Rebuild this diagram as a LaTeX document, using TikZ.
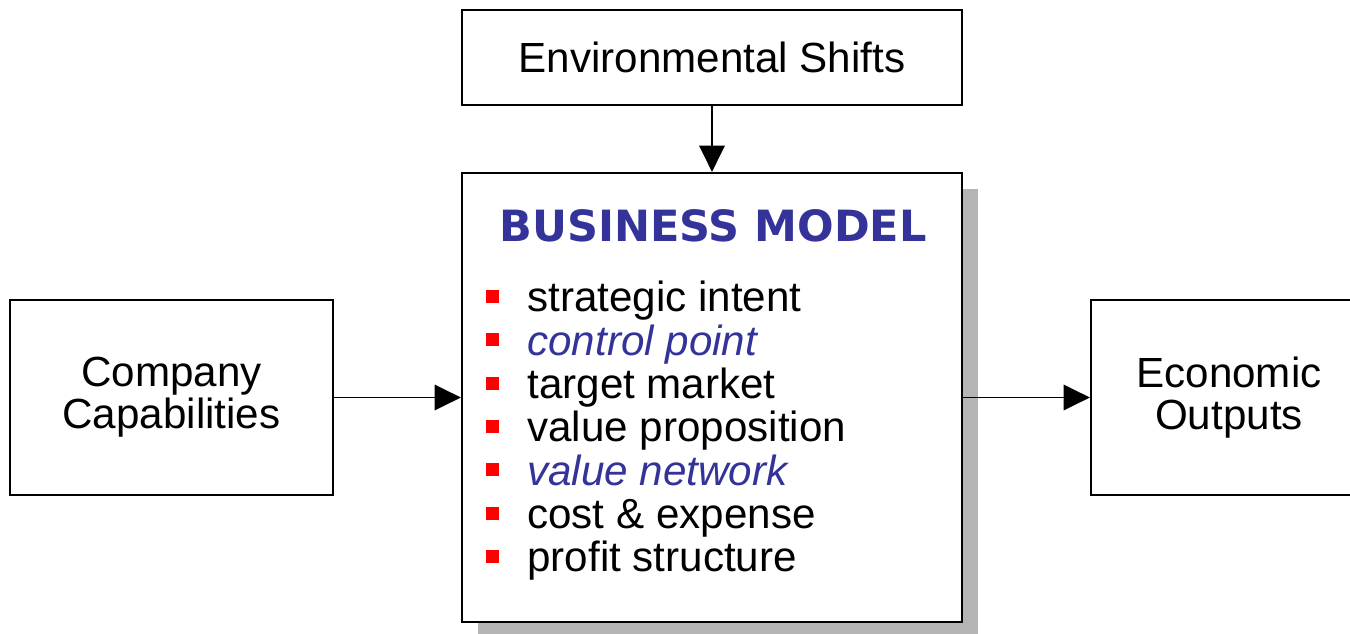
\documentclass[tikz,border=0pt]{standalone}
\usepackage{fontspec}
\setmainfont{Liberation Sans}
\newfontfamily\titlefont{DejaVu Sans}
\usetikzlibrary{positioning, arrows.meta}
\definecolor{bmblue}{HTML}{333399}
\definecolor{bmred}{HTML}{FF0000}
\definecolor{bmshade}{HTML}{B4B4B4}

\begin{document}
\begin{tikzpicture}[
    x=0.02cm, y=0.02cm,
    >={Triangle[length=15pt, width=14.5pt]},
    font=\fontsize{24}{24}\selectfont,
    box/.style={draw=black, line width=1.3pt, fill=white, inner sep=0pt, align=center},
    link/.style={draw=black, line width=1.1pt, ->},
    itemtxt/.style={anchor=base west, inner sep=0pt, text=black},
    itemhl/.style={anchor=base west, inner sep=0pt, text=bmblue, font=\fontsize{24}{24}\selectfont\itshape},
    bullet/.style={fill=bmred, inner sep=0pt, minimum size=0.26cm},
  ]
  \useasboundingbox (0,0) rectangle (1350,633);

  % ----- shadow of the central box -----
  \fill[bmshade] (478,-5) rectangle (978,444);

  % ----- boxes -----
  \node[box, minimum width=10cm, minimum height=1.9cm] (env) at (712,575.5) {Environmental Shifts};
  \node[box, minimum width=10cm, minimum height=8.98cm] (bm) at (712,235.5) {};
  \node[box, minimum width=6.46cm, minimum height=3.9cm] (cap) at (171.5,235.5) {Company\\Capabilities};
  \node[box, minimum width=5.52cm, minimum height=3.9cm] (out) at (1229,235.5) {Economic\\Outputs};

  % ----- title and bullet list -----
  \node[anchor=base, inner sep=0pt, text=bmblue, font=\fontsize{24.5}{25}\selectfont\titlefont\bfseries]
    (title) at (713,391) {BUSINESS MODEL};
  \foreach \txt/\sty [count=\i] in {strategic intent/itemtxt, control point/itemhl,
      target market/itemtxt, value proposition/itemtxt, value network/itemhl,
      cost \& expense/itemtxt, profit structure/itemtxt}{
    \pgfmathsetmacro{\yb}{321-(\i-1)*43.33}
    \node[bullet] (bul\i) at (492.5,\yb+15.5) {};
    \node[\sty] (itm\i) at (527,\yb) {\txt};
  }

  % ----- wiring -----
  \draw[link] (env) -- (bm);
  \draw[link] (cap) -- (bm);
  \draw[link] (bm) -- (out);

\end{tikzpicture}
\end{document}
